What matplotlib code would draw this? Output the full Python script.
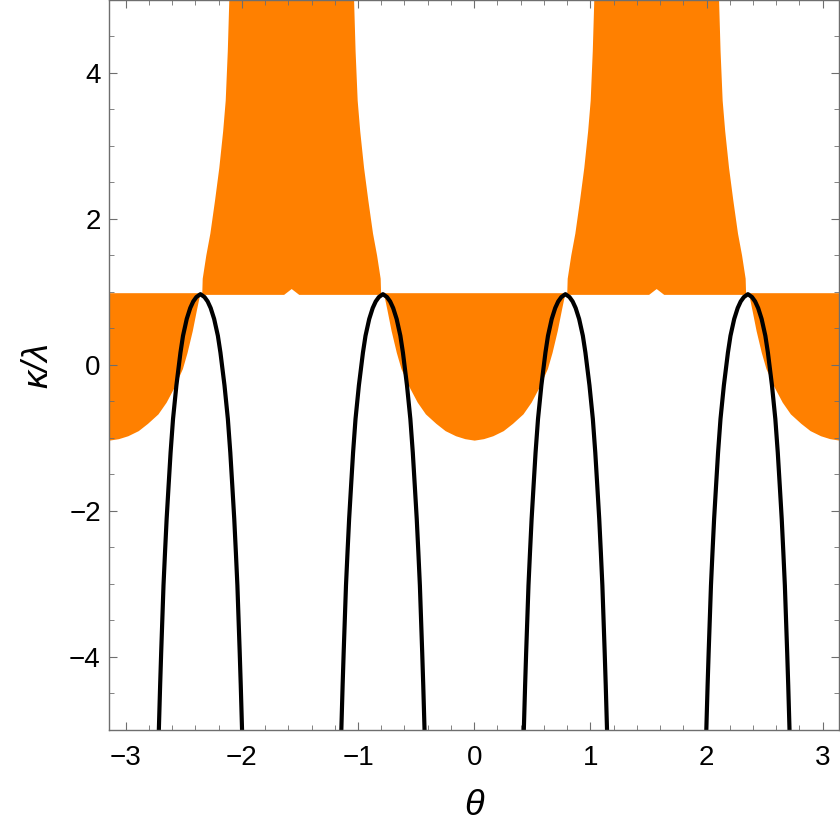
import numpy as np
import matplotlib
matplotlib.use('Agg')
import matplotlib.pyplot as plt
from matplotlib.ticker import MultipleLocator

# lower orange lobes (centred at 0 and +-pi): half width vs kappa/lambda
lobe_centres = [-np.pi, 0.0, np.pi]
lobe_y = [-1.03, -1.01, -0.97, -0.90, -0.80, -0.67, -0.51, -0.30, -0.05, 0.17, 0.47, 0.75, 0.98, 0.99]
lobe_w = [0.0, 0.08, 0.16, 0.25, 0.33, 0.42, 0.49, 0.56, 0.63, 0.67, 0.715, 0.75, 0.78, 0.78]

# upper orange bands (centred at +-pi/2)
band_centres = [-np.pi / 2, np.pi / 2]
band_y = [0.96, 1.18, 1.50, 1.80, 2.25, 2.70, 3.20, 3.62, 4.30, 5.0]
band_w = [0.77, 0.766, 0.735, 0.70, 0.66, 0.623, 0.59, 0.568, 0.55, 0.537]
notch_w = 0.065
notch_top = 1.04

# black curves (peaks at +-pi/4, +-3pi/4): half width vs kappa/lambda
curve_centres = [-3 * np.pi / 4, -np.pi / 4, np.pi / 4, 3 * np.pi / 4]
curve_y = [0.97, 0.93, 0.87, 0.78, 0.63, 0.40, 0.17, -0.28, -0.74, -1.20, -1.65,
           -2.11, -2.57, -3.02, -3.48, -3.94, -4.39, -5.05]
curve_w = [0.0, 0.035, 0.062, 0.088, 0.118, 0.150, 0.172, 0.207, 0.236, 0.257, 0.274,
           0.291, 0.305, 0.318, 0.328, 0.338, 0.347, 0.359]

orange = '#ff8000'
frame = '#6e6e6e'

plt.rcParams['font.family'] = ['Liberation Sans', 'DejaVu Sans']
fig = plt.figure(figsize=(8.4, 8.38), dpi=100)
ax = fig.add_axes([0.130, 0.129, 0.869, 0.871])

ly = np.array(lobe_y)
lw = np.array(lobe_w)
for c in lobe_centres:
    ax.fill_betweenx(ly, c - lw, c + lw, color=orange, lw=0)

by = np.array(band_y)
bw = np.array(band_w)
for c in band_centres:
    xs = [c - bw[0], c - notch_w, c, c + notch_w] + list(c + bw) + list(c - bw[::-1])
    ys = [by[0], by[0], notch_top, by[0]] + list(by) + list(by[::-1])
    ax.fill(xs, ys, color=orange, lw=0)

cy = np.array(curve_y)
cw = np.array(curve_w)
for c in curve_centres:
    xs = np.concatenate([c - cw[::-1], c + cw[1:]])
    ys = np.concatenate([cy[::-1], cy[1:]])
    ax.plot(xs, ys, color='black', lw=3.0, solid_joinstyle='round')

ax.set_xlim(-np.pi, np.pi)
ax.set_ylim(-5, 5)
ax.xaxis.set_major_locator(MultipleLocator(1))
ax.xaxis.set_minor_locator(MultipleLocator(0.2))
ax.yaxis.set_major_locator(MultipleLocator(2))
ax.yaxis.set_minor_locator(MultipleLocator(0.5))
ax.tick_params(which='both', direction='in', top=True, right=True,
               color=frame, labelsize=20, labelcolor='black')
ax.tick_params(which='major', length=5.5, width=0.8)
ax.tick_params(which='minor', length=3.5, width=0.6)
ax.tick_params(axis='x', which='major', pad=11)
ax.tick_params(axis='y', which='major', pad=6)
for s in ax.spines.values():
    s.set_color(frame)
    s.set_linewidth(1.0)

ax.set_xlabel('θ', fontsize=26, style='italic')
ax.set_ylabel('κ/λ', fontsize=26, style='italic')
ax.xaxis.set_label_coords(0.5, -0.103)
ax.xaxis.label.set_va('center')
ax.yaxis.set_label_coords(-0.098, 0.5)
ax.yaxis.label.set_va('center')

fig.savefig('out.png', dpi=100)
